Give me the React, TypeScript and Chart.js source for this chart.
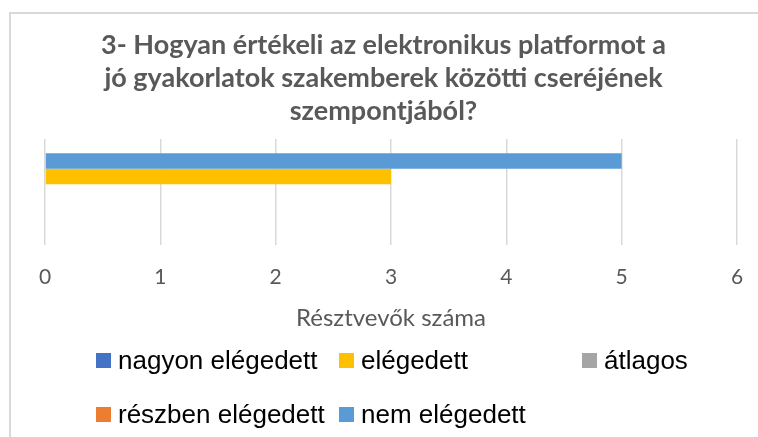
import { useEffect, useRef } from 'react';
import { Chart, registerables } from 'chart.js';

Chart.register(...registerables);

// ---- data ----
const categories = ['3. kérdés'];
const seriesNames = ['nagyon elégedett', 'elégedett', 'átlagos', 'részben elégedett', 'nem elégedett'];
const seriesValues = [0, 3, 0, 0, 5];
const seriesColors = ['#4472C4', '#FFC000', '#A5A5A5', '#ED7D31', '#5B9BD5'];
// order of the bars from top to bottom inside the category (indices into seriesNames)
const barOrder = [4, 1, 0, 2, 3];
const xTickValues = [0, 1, 2, 3, 4, 5, 6];
const titleLines = [
  '3- Hogyan értékeli az elektronikus platformot a',
  'jó gyakorlatok szakemberek közötti cseréjének',
  'szempontjából?',
];
const axisTitle = 'Résztvevők száma';

const frameAndLegend = {
  id: 'frameAndLegend',
  beforeDraw(chart: any) {
    const { ctx, width, height } = chart;
    ctx.save();
    ctx.fillStyle = '#ffffff';
    ctx.fillRect(0, 0, width, height);
    ctx.strokeStyle = '#D9D9D9';
    ctx.lineWidth = 2;
    ctx.beginPath();
    ctx.moveTo(10, height);
    ctx.lineTo(10, 13);
    ctx.lineTo(width, 13);
    ctx.stroke();
    ctx.restore();
  },
  afterDraw(chart: any) {
    const { ctx } = chart;
    ctx.save();
    ctx.font = '26px "Liberation Sans", Arial, sans-serif';
    ctx.textBaseline = 'middle';
    ctx.textAlign = 'left';
    seriesNames.forEach((name, i) => {
      const col = i % 3;
      const row = Math.floor(i / 3);
      const x = 96 + col * 243;
      const y = 361 + row * 54;
      ctx.fillStyle = seriesColors[i];
      ctx.fillRect(x, y - 8, 15, 15);
      ctx.fillStyle = '#000000';
      ctx.fillText(name, x + 22, y + 1);
    });
    ctx.restore();
  },
};

export default function App() {
  const canvasRef = useRef<HTMLCanvasElement | null>(null);

  useEffect(() => {
    if (!canvasRef.current) return;
    const chart = new Chart(canvasRef.current, {
      type: 'bar',
      data: {
        labels: categories,
        datasets: barOrder.map((i) => ({
          label: seriesNames[i],
          data: [seriesValues[i]],
          backgroundColor: seriesColors[i],
          borderWidth: 0,
          barPercentage: 1,
          categoryPercentage: 0.731,
        })),
      },
      options: {
        indexAxis: 'y',
        animation: false,
        responsive: true,
        maintainAspectRatio: false,
        layout: { padding: { top: 0, left: 30, right: 21, bottom: 104 } },
        plugins: {
          legend: { display: false },
          tooltip: { enabled: false },
          title: {
            display: true,
            text: titleLines,
            color: '#595959',
            font: { family: 'Lato', weight: 'bold', size: 27, lineHeight: '33px' },
            padding: { top: 29, bottom: 11 },
          },
        },
        scales: {
          x: {
            min: 0,
            max: 6,
            afterBuildTicks: (scale: any) => {
              scale.ticks = xTickValues.map((v) => ({ value: v }));
            },
            afterFit: (scale: any) => {
              scale.paddingLeft = 6;
              scale.paddingRight = 6;
            },
            grid: { color: '#D9D9D9', lineWidth: 1.5, drawTicks: false },
            border: { display: false },
            ticks: {
              color: '#595959',
              font: { family: 'Lato', size: 21 },
              padding: 20,
            },
            title: {
              display: true,
              text: axisTitle,
              color: '#595959',
              font: { family: 'Lato', size: 24 },
              padding: { top: -6, bottom: 0 },
            },
          },
          y: {
            display: true,
            ticks: { display: false },
            grid: { display: false },
            border: { display: false },
            afterFit: (scale: any) => {
              scale.width = 15;
            },
          },
        },
      },
      plugins: [frameAndLegend],
    });
    return () => chart.destroy();
  }, []);

  return (
    <div style={{ position: 'fixed', left: 0, top: 0, width: 758, height: 437, background: '#fff' }}>
      <canvas ref={canvasRef} />
    </div>
  );
}
